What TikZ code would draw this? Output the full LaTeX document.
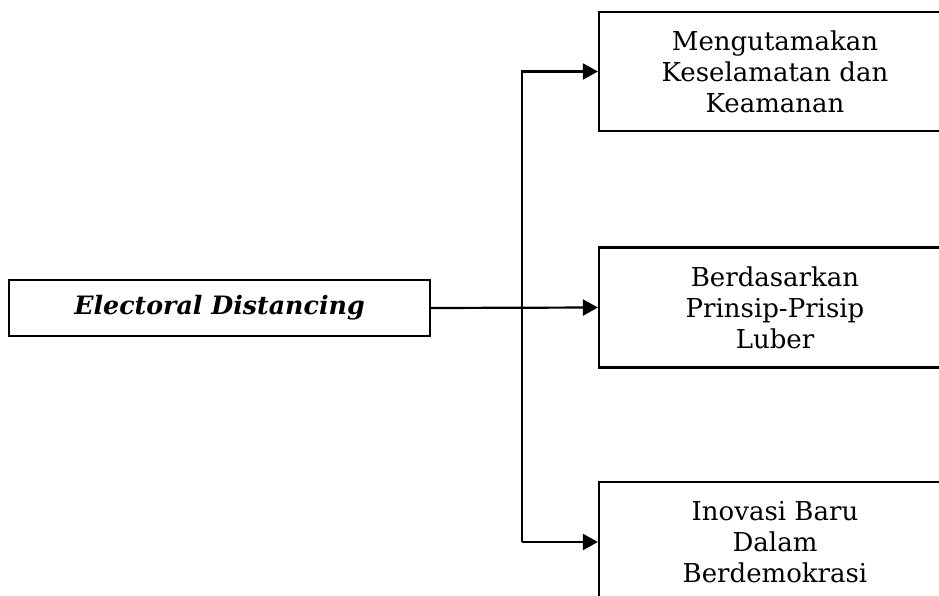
\documentclass[tikz,border=0pt]{standalone}
\usepackage{fontspec}
\setmainfont{DejaVu Serif}
\usetikzlibrary{arrows.meta}
\tikzset{
  box/.style={draw, line width=2.2pt, rectangle, inner sep=0pt, align=center,
    font=\fontsize{26}{31}\selectfont},
  arr/.style={line width=2.2pt, -{Triangle[length=15pt,width=16pt]}}
}
\begin{document}
\begin{tikzpicture}[x=1pt,y=-1pt]
\useasboundingbox (0,0) rectangle (939,596);
\clip (0,0) rectangle (939,596);
\node[box, minimum width=421pt, minimum height=56pt, font=\fontsize{25.3}{31}\selectfont\bfseries\itshape] (L) at (219.5,308) {Electoral Distancing};
\node[box, minimum width=352pt, minimum height=119pt] (B1) at (775,71.5) {Mengutamakan\\Keselamatan dan\\Keamanan};
\node[box, minimum width=352pt, minimum height=120pt] (B2) at (775,307.5) {Berdasarkan\\Prinsip-Prisip\\Luber};
\node[box, minimum width=352pt, minimum height=120pt] (B3) at (775,542) {Inovasi Baru\\Dalam\\Berdemokrasi};
\coordinate (J) at (522,300);
\draw[arr] (L.east) -- (B2.west);
\draw[arr] (J |- B3.west) -- (B3.west);
\draw[arr] (J |- B3.west) -- (J |- B1.west) -- (B1.west);
\end{tikzpicture}
\end{document}
